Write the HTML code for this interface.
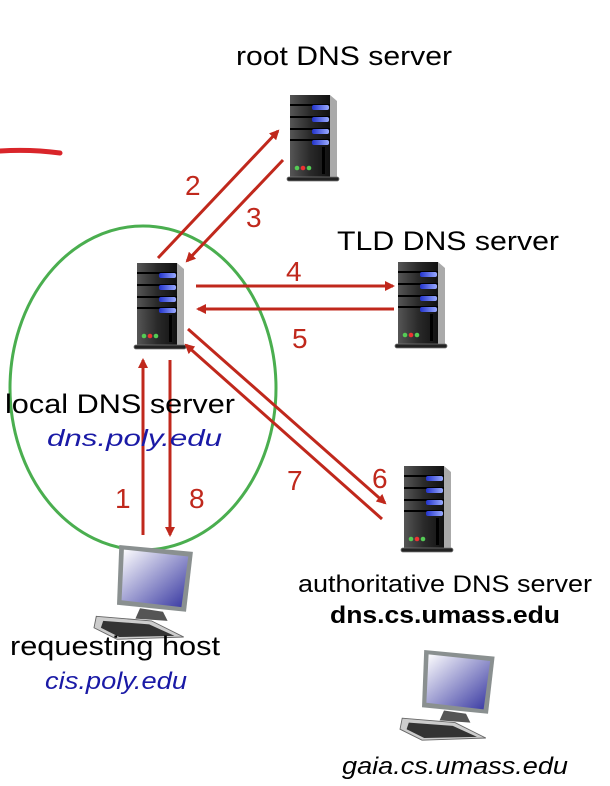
<!DOCTYPE html>
<html><head><style>
body{margin:0;background:#fff;width:610px;height:786px;overflow:hidden;}
svg{display:block}
text{font-family:"Liberation Sans",sans-serif;}
</style></head><body>
<svg width="610" height="786" viewBox="0 0 610 786">
<defs>
<linearGradient id="sg" x1="0" x2="1"><stop offset="0" stop-color="#555"/><stop offset="0.5" stop-color="#2a2a2a"/><stop offset="1" stop-color="#111"/></linearGradient>
<linearGradient id="bl" x1="0" x2="1"><stop offset="0" stop-color="#2233cc"/><stop offset="1" stop-color="#99aaff"/></linearGradient>
<linearGradient id="scr" x1="0" y1="0" x2="1" y2="1"><stop offset="0" stop-color="#fff"/><stop offset="1" stop-color="#3535a0"/></linearGradient>
<g id="srv">
<rect x="0" y="0" width="40" height="82" fill="url(#sg)"/>
<polygon points="40,0 47,6 47,82 40,84" fill="#aaa"/>
<rect x="0" y="9" width="40" height="2" fill="#000"/>
<rect x="0" y="21" width="40" height="2" fill="#000"/>
<rect x="0" y="33" width="40" height="2" fill="#000"/>
<rect x="0" y="44" width="40" height="2" fill="#000"/>
<rect x="22" y="10" width="17" height="5" rx="2" fill="url(#bl)"/>
<rect x="22" y="22" width="17" height="5" rx="2" fill="url(#bl)"/>
<rect x="22" y="34" width="17" height="5" rx="2" fill="url(#bl)"/>
<rect x="22" y="45" width="17" height="5" rx="2" fill="url(#bl)"/>
<rect x="32" y="52" width="3" height="27" fill="#000"/>
<circle cx="7" cy="73" r="2.3" fill="#5c5"/><circle cx="13" cy="73" r="2.3" fill="#e33"/><circle cx="19" cy="73" r="2.3" fill="#5c5"/>
<rect x="-3" y="82" width="52" height="4" rx="2" fill="#222" stroke="#777" stroke-width="0.8"/>
</g>
<g id="pc">
<polygon points="22,0 86,6 80,58 20,52" fill="#8a9090"/>
<polygon points="26,4 82,10 76,54 24,48" fill="url(#scr)"/>
<polygon points="40,55 60,58 64,66 36,64" fill="#555"/>
<polygon points="2,62 50,66 78,80 20,82 0,72" fill="#ccc" stroke="#666" stroke-width="0.8"/>
<polygon points="8,66 48,69 70,79 22,80 6,72" fill="#333"/>
</g>
<marker id="ah" markerWidth="10" markerHeight="10" refX="8" refY="5" orient="auto" markerUnits="userSpaceOnUse"><path d="M0,0 L10,5 L0,10 z" fill="#c0281c"/></marker>
</defs>
<path d="M0,151 Q30,149 60,153" stroke="#d9252a" stroke-width="5" fill="none" stroke-linecap="round"/>
<ellipse cx="143" cy="388" rx="133" ry="162" fill="none" stroke="#4aae4f" stroke-width="3"/>
<use href="#srv" x="290" y="95"/>
<use href="#srv" x="137" y="263"/>
<use href="#srv" x="398" y="262"/>
<use href="#srv" x="404" y="466"/>
<use href="#pc" transform="translate(94,545) scale(1.15)"/>
<use href="#pc" transform="translate(400,650) scale(1.1)"/>
<g stroke="#c0281c" stroke-width="3" fill="none" marker-end="url(#ah)">
<line x1="158" y1="258" x2="278" y2="131"/>
<line x1="283" y1="160" x2="187" y2="261"/>
<line x1="196" y1="286" x2="393" y2="286"/>
<line x1="394" y1="309" x2="198" y2="309"/>
<line x1="188" y1="329" x2="385" y2="503"/>
<line x1="382" y1="519" x2="186" y2="345"/>
<line x1="143" y1="535" x2="143" y2="360"/>
<line x1="170" y1="360" x2="170" y2="535"/>
</g>
<g fill="#c0281c" font-size="28">
<text x="185" y="195">2</text><text x="246" y="227">3</text>
<text x="286" y="281">4</text><text x="292" y="348">5</text>
<text x="372" y="488">6</text><text x="287" y="490">7</text>
<text x="115" y="508">1</text><text x="189" y="508">8</text>
</g>
<g font-size="27" fill="#000">
<text x="236" y="65" textLength="216" lengthAdjust="spacingAndGlyphs">root DNS server</text>
<text x="337" y="250" textLength="222" lengthAdjust="spacingAndGlyphs">TLD DNS server</text>
<text x="5" y="413" textLength="230" lengthAdjust="spacingAndGlyphs">local DNS server</text>
<text x="10" y="655" textLength="210" lengthAdjust="spacingAndGlyphs">requesting host</text>
</g>
<text x="298" y="592" font-size="24" textLength="294" lengthAdjust="spacingAndGlyphs">authoritative DNS server</text>
<text x="330" y="623" font-size="24" font-weight="bold" textLength="230" lengthAdjust="spacingAndGlyphs">dns.cs.umass.edu</text>
<text x="47" y="446" font-size="23" font-style="italic" fill="#1a1aa6" textLength="175" lengthAdjust="spacingAndGlyphs">dns.poly.edu</text>
<text x="45" y="689" font-size="24" font-style="italic" fill="#1a1aa6" textLength="142" lengthAdjust="spacingAndGlyphs">cis.poly.edu</text>
<text x="342" y="774" font-size="24" font-style="italic" textLength="226" lengthAdjust="spacingAndGlyphs">gaia.cs.umass.edu</text>
</svg>
</body></html>
